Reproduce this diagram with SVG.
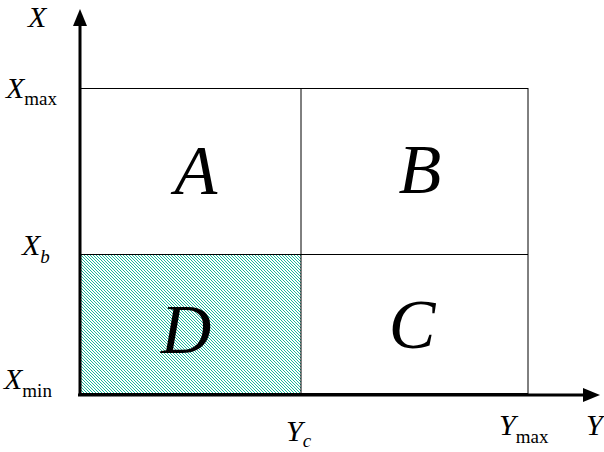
<svg xmlns="http://www.w3.org/2000/svg" width="604" height="452" viewBox="0 0 604 452">
<style>
.t{font-family:"Liberation Serif","Times New Roman",serif;fill:#000}
.big{font-size:70px;font-style:italic;text-anchor:middle}
.lab{font-size:30px;font-style:italic}
.sub{font-size:19px}
.thin{stroke:#000;stroke-width:1;fill:none}
.axis{stroke:#000;stroke-width:3;fill:none}
</style>
<defs>
<pattern id="hatch" width="3" height="3" patternUnits="userSpaceOnUse">
<rect width="3" height="3" fill="#fff"/>
<path d="M-1,-1 L4,4 M-1,2 L1,4 M2,-1 L4,1" stroke="#00b090" stroke-width="0.9"/>
</pattern>
</defs>
<rect width="604" height="452" fill="#fff"/>
<g id="regionD">
<rect x="80" y="254" width="221" height="140" fill="url(#hatch)"/>
<text class="t big" x="186" y="353">D</text>
</g>
<g id="regionA"><text class="t big" x="196" y="194">A</text></g>
<g id="regionB"><text class="t big" x="420" y="193">B</text></g>
<g id="regionC"><text class="t big" x="412" y="348">C</text></g>
<g id="connectors">
<rect class="thin" x="80" y="88.5" width="448" height="305"/>
<line class="thin" x1="301" y1="88" x2="301" y2="394"/>
<line class="thin" x1="80" y1="254.5" x2="528" y2="254.5"/>
<line class="axis" x1="80" y1="396" x2="80" y2="22"/>
<polygon points="80,9 73,26 87,26" fill="#000"/>
<line class="axis" x1="78" y1="395" x2="588" y2="395"/>
<polygon points="600,395 583,388 583,402" fill="#000"/>
</g>
<g id="labels">
<text class="t lab" x="28" y="27" font-size="28">X</text>
<text class="t lab" x="6" y="98">X<tspan class="sub" font-style="normal" dy="7">max</tspan></text>
<text class="t lab" x="22" y="255">X<tspan class="sub" dy="8">b</tspan></text>
<text class="t lab" x="4" y="389">X<tspan class="sub" font-style="normal" dy="8">min</tspan></text>
<text class="t lab" x="286" y="441">Y<tspan class="sub" dy="6">c</tspan></text>
<text class="t lab" x="499" y="435">Y<tspan class="sub" font-style="normal" dy="8">max</tspan></text>
<text class="t lab" x="586" y="435">Y</text>
</g>
</svg>
